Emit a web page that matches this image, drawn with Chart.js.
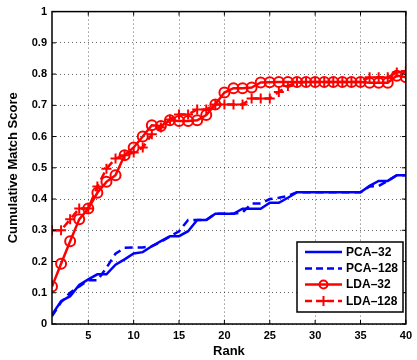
<!DOCTYPE html>
<html><head><meta charset="utf-8">
<script src="https://cdn.jsdelivr.net/npm/chart.js@4"></script>
<style>html,body{margin:0;padding:0;background:#fff}canvas{display:block}</style>
</head><body>
<canvas id="c" width="417" height="360"></canvas>
<script>
const ranks=[1,2,3,4,5,6,7,8,9,10,11,12,13,14,15,16,17,18,19,20,21,22,23,24,25,26,27,28,29,30,31,32,33,34,35,36,37,38,39,40];
const pca32=[0.03,0.073,0.089,0.125,0.143,0.159,0.159,0.19,0.207,0.226,0.23,0.249,0.265,0.281,0.281,0.297,0.333,0.333,0.353,0.353,0.353,0.369,0.369,0.369,0.388,0.388,0.404,0.422,0.422,0.422,0.422,0.422,0.422,0.422,0.422,0.442,0.458,0.458,0.476,0.476];
const pca128=[0.025,0.07,0.10,0.12,0.14,0.14,0.18,0.225,0.244,0.245,0.245,0.249,0.263,0.28,0.297,0.333,0.333,0.333,0.353,0.353,0.353,0.357,0.386,0.386,0.40,0.404,0.41,0.422,0.422,0.422,0.422,0.422,0.422,0.422,0.422,0.44,0.442,0.458,0.476,0.476];
const lda32=[0.12,0.193,0.265,0.335,0.37,0.42,0.455,0.476,0.54,0.565,0.60,0.636,0.634,0.652,0.65,0.65,0.652,0.669,0.703,0.741,0.755,0.755,0.757,0.773,0.774,0.775,0.775,0.775,0.775,0.775,0.775,0.775,0.775,0.775,0.775,0.772,0.772,0.772,0.795,0.79];
const lda128=[0.30,0.30,0.335,0.37,0.37,0.44,0.497,0.53,0.54,0.549,0.565,0.607,0.629,0.655,0.671,0.671,0.687,0.687,0.703,0.703,0.703,0.703,0.722,0.722,0.722,0.743,0.762,0.773,0.775,0.775,0.775,0.775,0.775,0.775,0.775,0.79,0.79,0.79,0.805,0.81];
const seriesNames=['PCA\u201332','PCA\u2013128','LDA\u201332','LDA\u2013128'];
const xTicks=[5,10,15,20,25,30,35,40];
const yTicks=[0,0.1,0.2,0.3,0.4,0.5,0.6,0.7,0.8,0.9,1];
const yTickLabels=['0','0.1','0.2','0.3','0.4','0.5','0.6','0.7','0.8','0.9','1'];

const FONT='"Liberation Sans", Arial, Helvetica, sans-serif';
const BLUE='#0000ff', RED='#ff0000';
function pts(v){return ranks.map((r,i)=>({x:r,y:v[i]}));}

const styles=[
  {color:BLUE,dash:[],point:false},
  {color:BLUE,dash:[8,5],point:false},
  {color:RED,dash:[],point:'circle'},
  {color:RED,dash:[8,5],point:'cross'}
];
const seriesData=[pca32,pca128,lda32,lda128];

const datasets=seriesData.map((v,i)=>({
  label:seriesNames[i],
  data:pts(v),
  borderColor:styles[i].color,
  backgroundColor:styles[i].color,
  borderWidth:2.5,
  borderDash:styles[i].dash,
  tension:0,
  showLine:true,
  pointStyle:styles[i].point||'circle',
  pointRadius:styles[i].point?5:0,
  pointBorderWidth:2,
  pointBorderColor:styles[i].color,
  pointBackgroundColor:'rgba(0,0,0,0)'
}));

const framePlugin={
  id:'frame',
  afterDatasetsDraw(chart){
    const {ctx,chartArea:a,scales:{x,y}}=chart;
    ctx.save();
    ctx.strokeStyle='#000';ctx.lineWidth=1.5;ctx.setLineDash([]);
    ctx.strokeRect(a.left,a.top,a.right-a.left,a.bottom-a.top);
    ctx.lineWidth=1;
    ctx.beginPath();
    xTicks.forEach(t=>{const p=x.getPixelForValue(t);
      ctx.moveTo(p,a.bottom);ctx.lineTo(p,a.bottom-4);
      ctx.moveTo(p,a.top);ctx.lineTo(p,a.top+4);});
    yTicks.forEach(t=>{const p=y.getPixelForValue(t);
      ctx.moveTo(a.left,p);ctx.lineTo(a.left+4,p);
      ctx.moveTo(a.right,p);ctx.lineTo(a.right-4,p);});
    ctx.stroke();
    ctx.restore();
  },
  afterDraw(chart){
    const {ctx}=chart;
    const bx=297,by=242,bw=106,bh=70;
    ctx.save();
    ctx.fillStyle='#fff';ctx.fillRect(bx,by,bw,bh);
    ctx.strokeStyle='#000';ctx.lineWidth=1.5;ctx.strokeRect(bx,by,bw,bh);
    ctx.font='bold 12px '+FONT;ctx.textBaseline='middle';ctx.fillStyle='#000';
    const rows=[252,268.5,284.5,301];
    seriesNames.forEach((n,i)=>{
      const s=styles[i],yy=rows[i];
      ctx.strokeStyle=s.color;ctx.lineWidth=2.5;ctx.setLineDash(s.dash.length?[7,4]:[]);
      ctx.beginPath();ctx.moveTo(305,yy);ctx.lineTo(342,yy);ctx.stroke();
      ctx.setLineDash([]);ctx.lineWidth=2;
      const cx=323.5;
      if(s.point==='circle'){ctx.beginPath();ctx.arc(cx,yy,4,0,Math.PI*2);ctx.stroke();}
      if(s.point==='cross'){ctx.beginPath();ctx.moveTo(cx-5,yy);ctx.lineTo(cx+5,yy);ctx.moveTo(cx,yy-5);ctx.lineTo(cx,yy+5);ctx.stroke();}
      ctx.fillStyle='#000';ctx.fillText(n,346,yy+0.5);
    });
    ctx.restore();
  }
};

new Chart(document.getElementById('c'),{
  type:'scatter',
  data:{datasets},
  plugins:[framePlugin],
  options:{
    responsive:false,animation:false,
    layout:{padding:{left:0,right:8,top:11,bottom:0}},
    plugins:{legend:{display:false},tooltip:{enabled:false}},
    scales:{
      x:{type:'linear',min:1,max:40,
        afterBuildTicks:s=>{s.ticks=xTicks.map(v=>({value:v}));},
        afterFit:s=>{s.height=36;},
        grid:{color:'rgba(0,0,0,0.6)',lineWidth:1,drawTicks:false},
        border:{display:false,dash:[1,3]},
        ticks:{font:{family:FONT,size:11,weight:'bold'},color:'#000',padding:5,maxRotation:0,autoSkip:false,callback:v=>String(v)},
        title:{display:true,text:'Rank',font:{family:FONT,size:13,weight:'bold'},color:'#000',padding:{top:0,bottom:1}}
      },
      y:{type:'linear',min:0,max:1,
        afterBuildTicks:s=>{s.ticks=yTicks.map(v=>({value:v}));},
        afterFit:s=>{s.width=52;},
        grid:{color:'rgba(0,0,0,0.6)',lineWidth:1,drawTicks:false},
        border:{display:false,dash:[1,3]},
        ticks:{font:{family:FONT,size:11,weight:'bold'},color:'#000',padding:5,autoSkip:false,
          callback:(v,i)=>yTickLabels[yTicks.indexOf(Math.round(v*10)/10)]},
        title:{display:true,text:'Cumulative Match Score',font:{family:FONT,size:13,weight:'bold'},color:'#000',padding:{top:6,bottom:0}}
      }
    }
  }
});
</script>
</body></html>
